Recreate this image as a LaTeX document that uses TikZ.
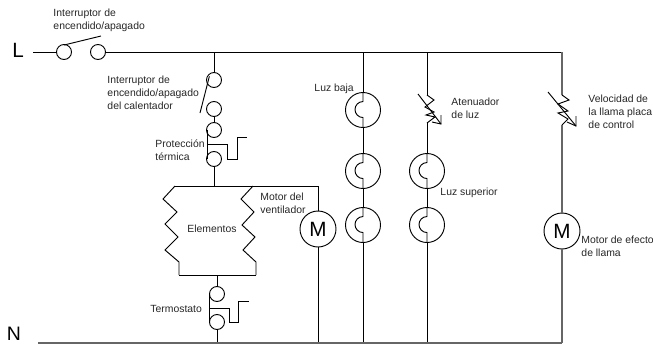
\documentclass[tikz,border=0pt]{standalone}
\usepackage{fontspec}
\setmainfont{Liberation Sans}
\tikzstyle{contact}=[circle, draw, inner sep=0pt, minimum size=11.25pt]
\tikzstyle{lamp}=[circle, draw, inner sep=0pt, minimum size=26.25pt]
\tikzstyle{motor}=[circle, draw, inner sep=0pt, minimum size=27pt, font=\fontsize{15.5}{17}\selectfont]
\tikzstyle{rotulo}=[anchor=west, align=left, inner sep=0pt, text=black!85, font=\fontsize{7.8}{9.75}\selectfont]
\tikzstyle{barra}=[draw=black!60, line width=1.3pt]
\newcommand{\contact}{\node[contact]}
\newcommand{\lamp}{\node[lamp]}
\newcommand{\motor}{\node[motor]}
\newcommand{\rotulo}{\node[rotulo]}
\newcommand{\filament}[1]{\draw (#1.north) -- ++(0,9.5) arc[start angle=90, end angle=270, radius=6pt] -- (#1.south);}

\begin{document}
\begin{tikzpicture}[x=0.75pt, y=-0.75pt, line width=0.7pt]
\useasboundingbox (0,0) rectangle (653,344);
\node[font=\fontsize{15.5}{17}\selectfont, inner sep=0pt] (fase) at (18,50) {L};
\node[font=\fontsize{14.6}{16}\selectfont, inner sep=0pt] (neutro) at (14,334) {N};
\coordinate (f0) at (33,52);
\coordinate (n0) at (38,343);
\contact (s1) at (64,52) {};
\contact (s2) at (98,52) {};
\coordinate (h0) at (214,52);
\coordinate (c1) at (363,52);
\coordinate (c2) at (427,52);
\coordinate (c3) at (562,52);
\coordinate (m0) at (318,343);
\coordinate (d1) at (363,343);
\coordinate (d2) at (427,343);
\coordinate (d3) at (562,343);
% calentador
\contact (h1) at (214,80) {};
\contact (h2) at (214,109) {};
\contact (p1) at (214,130) {};
\contact (p2) at (214,159) {};
\coordinate (e0) at (214,186);
\coordinate (el) at (175,186);
\coordinate (er) at (253,186);
\coordinate (t0) at (318,186);
\coordinate (bl) at (179,275);
\coordinate (br) at (256,275);
\coordinate (b0) at (217,275);
\contact (t1) at (217,294) {};
\contact (t2) at (217,322) {};
\coordinate (t3) at (217,343);
\motor (mv) at (318,229) {M};
% luces
\lamp (l1) at (363,110) {};
\lamp (l2) at (363,171) {};
\lamp (l3) at (363,225) {};
\lamp (l4) at (427,171) {};
\lamp (l5) at (427,225) {};
\coordinate (a1) at (427,95);
\coordinate (a2) at (427,123);
\coordinate (v1) at (562,95);
\coordinate (v2) at (562,125);
\motor (mf) at (562,231) {M};
\path[every edge/.style={draw}]
(f0) edge (s1)
(s2) edge (c3)
(h0) edge (h1)
(h2) edge (p1)
(p2) edge (e0)
(b0) edge (t1)
(t2) edge (t3)
(t0) edge (mv)
(mv) edge (m0)
(c1) edge (l1)
(l1) edge (l2)
(l2) edge (l3)
(l3) edge (d1)
(c2) edge (a1)
(a2) edge (l4)
(l4) edge (l5)
(l5) edge (d2)
(el) edge (t0)
(bl) edge (br)
;
% interruptores
\draw (s1.north) ++(0,1) -- (101,36);
\draw (h1.north west) ++(1,2) -- (200,113);
% protectores
\draw (207,130) -- (207,159);
\draw (207,144) -- (227,144) -- (227,159) -- (237,159) -- (237,137) -- (247,137);
\draw (209.5,294) -- (209.5,322);
\draw (209.5,308) -- (229,308) -- (229,322) -- (238,322) -- (238,301) -- (249,301);
% resistencias
\draw (el) -- (163,199) -- (177,212) -- (165,224) -- (178,237) -- (165,250) -- (179,262) -- (bl);
\draw (er) -- (241,199) -- (254,212) -- (242,225) -- (255,237) -- (243,250) -- (256,262) -- (br);
\filament{l1}
\filament{l2}
\filament{l3}
\filament{l4}
\filament{l5}
% reguladores
\draw (a1) -- (434,100) -- (425,107) -- (434,112) -- (426,115) -- (435,117) -- (a2);
\draw (418,94) -- (441,124);
\draw (441,115) -- (441,124) -- (432,122);
\draw[barra] (c3) -- (v1);
\draw (v1) -- (569,100) -- (558,104) -- (568,111) -- (558,113) -- (568,119) -- (v2);
\draw (548,92) -- (576,126);
\draw (576,116) -- (576,126) -- (567,122);
\draw[barra] (v2) -- (mf);
\draw[barra] (mf) -- (d3);
\draw[barra] (n0) -- (d3);
% rotulos
\rotulo (r1) at (53,20) {Interruptor de\\encendido/apagado};
\rotulo (r2) at (107,93) {Interruptor de\\encendido/apagado\\del calentador};
\rotulo (r3) at (155,150) {Protección\\térmica};
\rotulo (r4) at (187,229) {Elementos};
\rotulo (r5) at (260,203) {Motor del\\ventilador};
\rotulo (r6) at (150,309) {Termostato};
\rotulo (r7) at (314,89) {Luz baja};
\rotulo (r8) at (451,108) {Atenuador\\de luz};
\rotulo (r9) at (440,193) {Luz superior};
\rotulo (r10) at (588,112) {Velocidad de\\la llama placa\\de control};
\rotulo (r11) at (581,246) {Motor de efecto\\de llama};
\end{tikzpicture}
\end{document}
